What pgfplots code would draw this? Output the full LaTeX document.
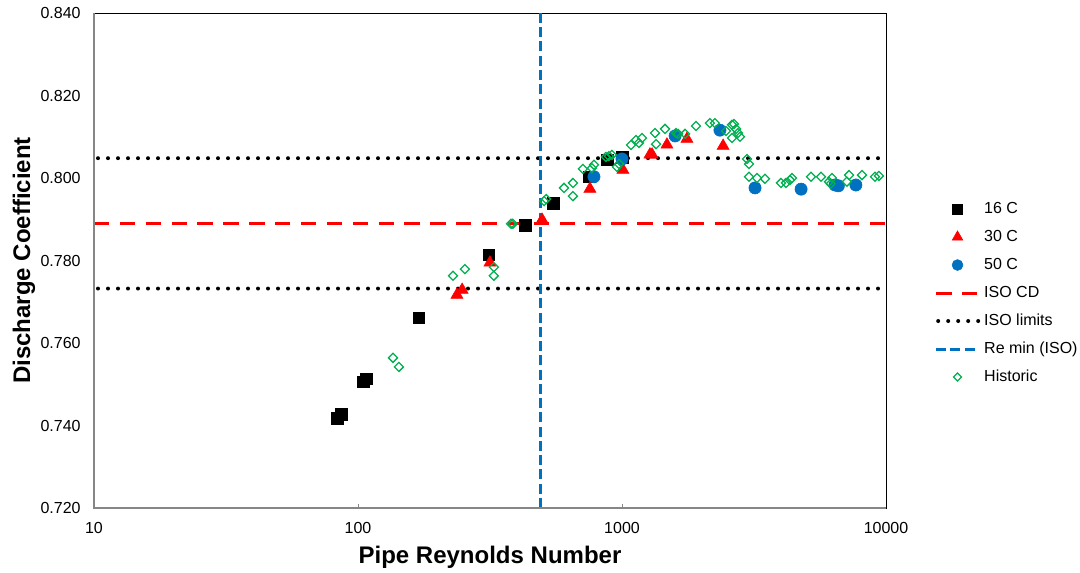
\documentclass[border=0pt]{standalone}
\usepackage{pgfplots}
\pgfplotsset{compat=1.18}
\usepackage{fontspec}
\setmainfont{Liberation Sans}
\definecolor{exred}{HTML}{FF0000}
\definecolor{exblue}{HTML}{0070C0}
\definecolor{exgreen}{HTML}{00B050}
\definecolor{axgray}{HTML}{868686}

\pgfplotstableread{
x y
83.3 0.7418
86.2 0.7428
104.5 0.7506
107.2 0.7513
170 0.7661
313 0.7814
430 0.7886
548 0.7939
750 0.8003
878 0.8044
1000 0.8051
}\tsixteen

\pgfplotstableread{
x y
237 0.7721
248 0.7733
316 0.7799
498 0.7903
756 0.7978
1008 0.8024
1276 0.8061
1300 0.8061
1480 0.8085
1762 0.8099
2415 0.8082
}\tthirty

\pgfplotstableread{
x y
783 0.8003
1000 0.8046
1589 0.8102
2349 0.8116
3191 0.7976
4768 0.7973
6410 0.7983
6600 0.7981
7690 0.7983
}\tfifty

\pgfplotstableread{
x y
135.7 0.7564
142.9 0.7542
229 0.7763
254 0.7779
327 0.7784
327 0.7763
380 0.7889
386 0.7889
507 0.7944
516 0.7949
603 0.7976
652 0.7988
652 0.7956
711 0.8022
769 0.8024
783 0.8032
869 0.8051
892 0.8053
916 0.8056
957 0.8027
975 0.8034
1082 0.8080
1130 0.8092
1159 0.8085
1190 0.8097
1334 0.8109
1346 0.8082
1455 0.8119
1603 0.8109
1631 0.8107
1733 0.8107
1906 0.8126
2153 0.8133
2249 0.8133
2478 0.8114
2610 0.8129
2656 0.8131
2704 0.8119
2750 0.8109
2610 0.8097
2800 0.8100
2974 0.8046
3027 0.8034
3027 0.8003
3244 0.8000
3480 0.7998
4000 0.7988
4178 0.7988
4325 0.7995
4403 0.8000
5200 0.8003
5675 0.8003
6083 0.7991
6240 0.8000
6178 0.7986
7110 0.7991
7244 0.8007
8110 0.8007
9080 0.8003
9400 0.8005
}\thistoric

\begin{document}
\begin{tikzpicture}[x=1pt,y=1pt]
\useasboundingbox (-70.5,-48) rectangle (739.5,381);
\begin{axis}[
  at={(0,0)}, anchor=south west,
  scale only axis, width=594pt, height=371.25pt,
  xmode=log, log basis x=10,
  xmin=10, xmax=10000, ymin=0.72, ymax=0.84,
  xtick={10,100,1000,10000}, xticklabels={10,100,1000,10000},
  minor xtick={},
  ytick={0.72,0.74,0.76,0.78,0.80,0.82,0.84},
  yticklabels={0.720,0.740,0.760,0.780,0.800,0.820,0.840},
  tick label style={font=\fontsize{12}{14}\selectfont, text=black},
  xticklabel style={yshift=-7pt},
  yticklabel style={xshift=-6.5pt},
  tick align=inside, xtick pos=lower, ytick pos=left,
  major tick length=3pt,
  xtick style={axgray, line width=0.75pt},
  ytick style={draw=none},
  axis line style={black, line width=0.6pt},
  xlabel={Pipe Reynolds Number},
  ylabel={Discharge Coefficient},
  label style={font=\bfseries\fontsize{18}{21}\selectfont},
  xlabel style={at={(axis description cs:0.5,-0.099)}, anchor=center},
  ylabel style={at={(axis description cs:-0.0884,0.5)}, anchor=center},
  legend style={draw=none, fill=none, at={(axis description cs:1.0605,0.4343)},
    anchor=west, font=\fontsize{12}{14}\selectfont, inner sep=0pt,
    row sep=9.5pt, cells={anchor=west},
    nodes={text height=9pt, text depth=2.5pt, inner ysep=0pt, inner xsep=2.5pt}},
  legend image code/.code={%
    \draw[mark repeat=2,mark phase=2,#1] plot coordinates {(0pt,0pt) (16pt,0pt) (32pt,0pt)};},
]
% reference lines
\addplot[exred, line width=2.25pt, dash pattern=on 11.5pt off 7.9pt, forget plot]
  coordinates {(10,0.789) (10000,0.789)};
\addplot[black, line width=3pt, line cap=round, dash pattern=on 0pt off 7.5pt, dash phase=-3pt, forget plot]
  coordinates {(10,0.8048) (10000,0.8048)};
\addplot[black, line width=3pt, line cap=round, dash pattern=on 0pt off 7.5pt, dash phase=-3pt, forget plot]
  coordinates {(10,0.7732) (10000,0.7732)};
\addplot[exblue, line width=2.25pt, dash pattern=on 7.5pt off 3.2pt, forget plot]
  coordinates {(490,0.72) (490,0.84)};
% data
\addplot[only marks, mark=square*, mark size=4.4pt, black, forget plot] table {\tsixteen};
\addplot[only marks, mark=triangle*, mark size=5.2pt, exred, mark options={yshift=-1.3pt}, forget plot] table {\tthirty};
\addplot[only marks, mark=*, mark size=4.6pt, exblue, forget plot] table {\tfifty};
\addplot[only marks, mark=square, mark size=2.4pt, exgreen, line width=0.95pt, mark options={rotate=45}, forget plot] table {\thistoric};
% legend
\addlegendimage{only marks, mark=square*, mark size=3.75pt, black}
\addlegendentry{16 C}
\addlegendimage{only marks, mark=triangle*, mark size=4.6pt, exred}
\addlegendentry{30 C}
\addlegendimage{only marks, mark=*, mark size=4.1pt, exblue}
\addlegendentry{50 C}
\addlegendimage{exred, line width=2.25pt, dash pattern=on 11.5pt off 7.9pt}
\addlegendentry{ISO CD}
\addlegendimage{black, line width=3pt, line cap=round, dash pattern=on 0pt off 7.5pt, dash phase=-1.5pt}
\addlegendentry{ISO limits}
\addlegendimage{exblue, line width=2.25pt, dash pattern=on 7.5pt off 3.2pt}
\addlegendentry{Re min (ISO)}
\addlegendimage{only marks, mark=square, mark size=2.1pt, exgreen, line width=0.95pt, mark options={rotate=45}}
\addlegendentry{Historic}
\end{axis}
\draw[axgray, line width=1.1pt] (0,371.25) -- (0,0) -- (594,0);
\end{tikzpicture}
\end{document}
